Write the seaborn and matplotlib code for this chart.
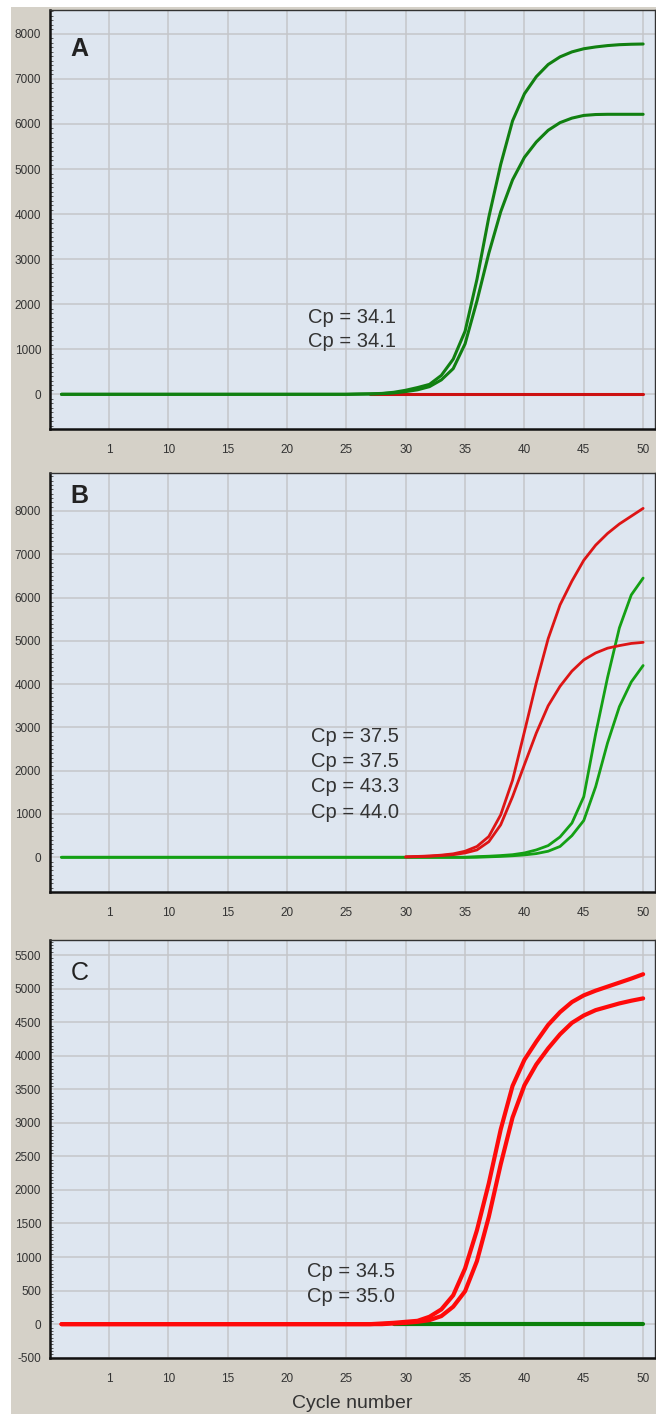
import numpy as np
import matplotlib
matplotlib.use("Agg")
import matplotlib.pyplot as plt
from matplotlib.patches import Rectangle
from matplotlib.ticker import MultipleLocator
import seaborn as sns

sns.set_theme(style="white")
plt.rcParams['font.family'] = ['Liberation Sans', 'DejaVu Sans']

nan = np.nan
cycles = list(range(1, 51))

# Panel A
a_green_1 = [0, 0, 0, 0, 0, 0, 0, 0, 0, 0, 0, 0, 0, 0, 0, 0, 0, 0, 0, 0, 0, 0, 0, 0, 0,
             5, 10, 20, 45, 90, 150, 220, 420, 780, 1400, 2550, 3930, 5100, 6070, 6670,
             7050, 7320, 7490, 7600, 7670, 7710, 7740, 7760, 7770, 7775]
a_green_2 = [0, 0, 0, 0, 0, 0, 0, 0, 0, 0, 0, 0, 0, 0, 0, 0, 0, 0, 0, 0, 0, 0, 0, 0, 0,
             5, 8, 15, 30, 60, 100, 170, 320, 570, 1120, 2070, 3130, 4050, 4760, 5260,
             5600, 5860, 6030, 6130, 6190, 6210, 6215, 6215, 6215, 6215]
a_red = [nan, nan, nan, nan, nan, nan, nan, nan, nan, nan, nan, nan, nan, nan, nan, nan,
         nan, nan, nan, nan, nan, nan, nan, nan, nan, nan,
         0, 0, 0, 0, 0, 0, 0, 0, 0, 0, 0, 0, 0, 0, 0, 0, 0, 0, 0, 0, 0, 0, 0, 0]
a_cp = ["Cp = 34.1", "Cp = 34.1"]

# Panel B
b_green_1 = [0, 0, 0, 0, 0, 0, 0, 0, 0, 0, 0, 0, 0, 0, 0, 0, 0, 0, 0, 0, 0, 0, 0, 0, 0,
             0, 0, 0, 0, 0, 0, 0, 0, 0, 0,
             15, 25, 40, 60, 100, 170, 270, 470, 790, 1400, 2850, 4150, 5300, 6060, 6450]
b_green_2 = [0, 0, 0, 0, 0, 0, 0, 0, 0, 0, 0, 0, 0, 0, 0, 0, 0, 0, 0, 0, 0, 0, 0, 0, 0,
             0, 0, 0, 0, 0, 0, 0, 0, 0, 0, 0,
             10, 20, 35, 55, 85, 140, 250, 500, 850, 1630, 2640, 3480, 4050, 4430]
b_red_1 = [nan, nan, nan, nan, nan, nan, nan, nan, nan, nan, nan, nan, nan, nan, nan, nan,
           nan, nan, nan, nan, nan, nan, nan, nan, nan, nan, nan, nan, nan,
           10, 20, 30, 50, 80, 140, 250, 480, 980, 1780, 2900, 4030, 5050, 5830, 6380,
           6860, 7210, 7480, 7700, 7880, 8060]
b_red_2 = [nan, nan, nan, nan, nan, nan, nan, nan, nan, nan, nan, nan, nan, nan, nan, nan,
           nan, nan, nan, nan, nan, nan, nan, nan, nan, nan, nan, nan, nan,
           8, 15, 25, 40, 60, 100, 170, 360, 750, 1400, 2140, 2870, 3500, 3950, 4300,
           4560, 4720, 4830, 4890, 4940, 4965]
b_cp = ["Cp = 37.5", "Cp = 37.5", "Cp = 43.3", "Cp = 44.0"]

# Panel C
c_red_1 = [0, 0, 0, 0, 0, 0, 0, 0, 0, 0, 0, 0, 0, 0, 0, 0, 0, 0, 0, 0, 0, 0, 0, 0, 0, 0, 0,
           10, 20, 35, 50, 110, 220, 430, 830, 1400, 2100, 2900, 3550, 3940, 4210, 4460,
           4650, 4800, 4900, 4970, 5030, 5090, 5150, 5215]
c_red_2 = [0, 0, 0, 0, 0, 0, 0, 0, 0, 0, 0, 0, 0, 0, 0, 0, 0, 0, 0, 0, 0, 0, 0, 0, 0, 0, 0, 0,
           10, 20, 35, 60, 120, 260, 490, 940, 1600, 2380, 3080, 3560, 3870, 4110, 4320,
           4490, 4600, 4680, 4730, 4780, 4820, 4855]
c_green = [nan, nan, nan, nan, nan, nan, nan, nan, nan, nan, nan, nan, nan, nan, nan, nan,
           nan, nan, nan, nan, nan, nan, nan, nan, nan, nan, nan, nan,
           0, 0, 0, 0, 0, 0, 0, 0, 0, 0, 0, 0, 0, 0, 0, 0, 0, 0, 0, 0, 0, 0]
c_cp = ["Cp = 34.5", "Cp = 35.0"]

x_tick_pos = [5, 10, 15, 20, 25, 30, 35, 40, 45, 50]
x_tick_labels = ["1", "10", "15", "20", "25", "30", "35", "40", "45", "50"]
ab_yticks = [0, 1000, 2000, 3000, 4000, 5000, 6000, 7000, 8000]
c_yticks = [-500, 0, 500, 1000, 1500, 2000, 2500, 3000, 3500, 4000, 4500, 5000, 5500]
panel_letters = ["A", "B", "C"]
x_label = "Cycle number"

# ---- style ----
W, H = 656, 1414
fig = plt.figure(figsize=(W / 100, H / 100), dpi=100)
fig.patch.set_facecolor("white")
fig.patches.append(Rectangle((11 / W, 0), 1 - 11 / W, 1 - 7 / H, transform=fig.transFigure,
                             facecolor="#d5d1c8", edgecolor="none", zorder=-10))

AX_BG = "#dee6f0"
GRID = "#c4c6c9"
TXT = "#333333"

def make_ax(rect, ylim, yticks, minor_step):
    ax = fig.add_axes(rect)
    ax.set_facecolor(AX_BG)
    ax.set_xlim(0, 51)
    ax.set_ylim(*ylim)
    ax.set_xticks(x_tick_pos)
    ax.set_xticklabels(x_tick_labels)
    ax.set_yticks(yticks)
    ax.set_yticklabels([str(t) for t in yticks])
    ax.yaxis.set_minor_locator(MultipleLocator(minor_step))
    ax.grid(True, which="major", color=GRID, linewidth=1.1)
    ax.set_axisbelow(True)
    for s in ["left", "bottom"]:
        ax.spines[s].set_color("#111111")
        ax.spines[s].set_linewidth(1.8)
    for s in ["top", "right"]:
        ax.spines[s].set_color("#333333")
        ax.spines[s].set_linewidth(1.0)
    ax.tick_params(axis="both", which="major", labelsize=8.5, labelcolor=TXT,
                   color="#777777", length=4, width=0.8, direction="out")
    ax.tick_params(axis="x", pad=7)
    ax.tick_params(axis="y", pad=2)
    ax.tick_params(axis="y", which="minor", left=True, length=2, width=0.6,
                   color="#444444", direction="in")
    ax.set_xlabel("")
    ax.set_ylabel("")
    return ax

def curve(ax, y, color, lw):
    sns.lineplot(x=cycles, y=y, ax=ax, color=color, linewidth=lw, legend=False)

def cp_text(ax, x, ys, labels):
    for yy, lab in zip(ys, labels):
        ax.text(x, yy, lab, fontsize=14.5, color=TXT, ha="left", va="center")

# Panel A
axA = make_ax([49.6 / W, 1 - 429 / H, 605.4 / W, 419 / H], (-770, 8530), ab_yticks, 100)
curve(axA, a_red, "#cc1111", 2.2)
curve(axA, a_green_2, "#118011", 2.2)
curve(axA, a_green_1, "#118011", 2.2)
axA.text(0.050, 0.907, panel_letters[0], transform=axA.transAxes, fontsize=18,
         fontweight="bold", color="#222222", ha="center", va="center")
cp_text(axA, 21.75, [1694, 1183], a_cp)

# Panel B
axB = make_ax([49.6 / W, 1 - 891.7 / H, 605.4 / W, 418.4 / H], (-795, 8870), ab_yticks, 100)
curve(axB, b_green_1, "#14a014", 2.0)
curve(axB, b_green_2, "#14a014", 2.0)
curve(axB, b_red_1, "#dd1515", 2.0)
curve(axB, b_red_2, "#dd1515", 2.0)
axB.text(0.050, 0.946, panel_letters[1], transform=axB.transAxes, fontsize=18,
         fontweight="bold", color="#222222", ha="center", va="center")
cp_text(axB, 22.05, [2785, 2207, 1630, 1038], b_cp)

# Panel C
axC = make_ax([49.6 / W, 1 - 1357.7 / H, 605.4 / W, 417.7 / H], (-500, 5725), c_yticks, 50)
curve(axC, c_green, "#0b800b", 3.0)
curve(axC, c_red_2, "#ff0a0a", 3.0)
curve(axC, c_red_1, "#ff0a0a", 3.0)
axC.text(0.050, 0.922, panel_letters[2], transform=axC.transAxes, fontsize=18,
         fontweight="normal", color="#222222", ha="center", va="center")
cp_text(axC, 21.67, [785, 412], c_cp)

fig.text(352 / W, 1 - 1404 / H, x_label, fontsize=14, color=TXT, ha="center", va="center")

fig.savefig("out.png", dpi=100, facecolor=fig.get_facecolor())
